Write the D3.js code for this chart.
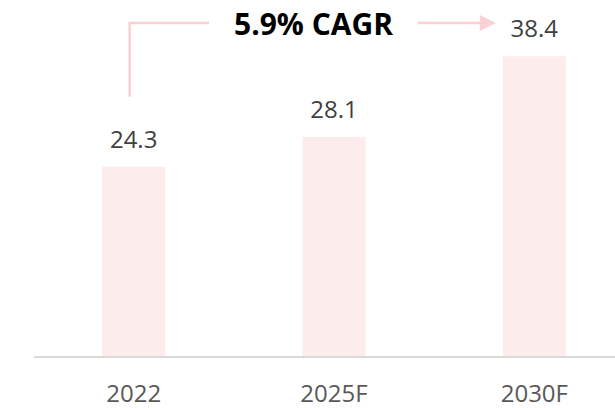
<!DOCTYPE html>
<html>
<head>
<meta charset="utf-8">
<script src="https://cdn.jsdelivr.net/npm/d3@7"></script>
<style>
  body { margin: 0; background: #fff; }
  svg { display: block; font-family: "Open Sans", "Noto Sans", sans-serif; }
</style>
</head>
<body>
<div id="chart"></div>
<script>
// chart data
var years = ["2022", "2025F", "2030F"];
var values = [24.3, 28.1, 38.4];
var cagrLabel = "5.9% CAGR";

var width = 615;
var height = 408;
var baseY = 357;

var svg = d3.select("#chart")
    .append("svg")
    .attr("width", width)
    .attr("height", height);

// x band for the three bars
var x = d3.scaleBand()
    .domain(years)
    .range([34, 634])
    .paddingInner(0.685)
    .paddingOuter(0.34);

// y scale, about 7.83px per unit
var y = d3.scaleLinear()
    .domain([0, 40])
    .range([baseY, baseY - 313.2]);

svg.selectAll("rect.bar")
    .data(values)
    .enter()
    .append("rect")
    .attr("class", "bar")
    .attr("x", function(d, i) { return x(years[i]); })
    .attr("y", function(d) { return y(d); })
    .attr("width", x.bandwidth())
    .attr("height", function(d) { return baseY - y(d); })
    .attr("fill", "#fcecec");

// baseline axis
var xAxis = d3.axisBottom(x).tickSize(0);
var gx = svg.append("g")
    .attr("transform", "translate(0," + baseY + ")")
    .call(xAxis);
gx.select(".domain").remove();
gx.append("line")
    .attr("x1", 34).attr("x2", width)
    .attr("y1", 0).attr("y2", 0)
    .attr("stroke", "#d9d9d9")
    .attr("stroke-width", 2);
gx.selectAll(".tick text")
    .attr("y", 45)
    .attr("dy", 0)
    .attr("font-size", 24)
    .attr("font-family", "Open Sans, Noto Sans, sans-serif")
    .attr("fill", "#595959");

// value labels
svg.selectAll("text.val")
    .data(values)
    .enter()
    .append("text")
    .attr("class", "val")
    .attr("x", function(d, i) { return x(years[i]) + x.bandwidth() / 2; })
    .attr("y", function(d) { return y(d) - 19; })
    .attr("text-anchor", "middle")
    .attr("font-size", 24)
    .attr("fill", "#404040")
    .text(function(d) { return d.toFixed(1); });

// CAGR bracket and arrow
var lineY = 23;
var startX = x(years[0]) + x.bandwidth() / 2 - 4;
var arrowEnd = x(years[2]) - 7;
var pink = "#f9d0d3";

svg.append("path")
    .attr("d", "M" + startX + "," + (y(values[0]) - 70) + " V" + lineY + " H209")
    .attr("fill", "none")
    .attr("stroke", pink)
    .attr("stroke-width", 2.5);

svg.append("line")
    .attr("x1", 418).attr("x2", arrowEnd - 14)
    .attr("y1", lineY).attr("y2", lineY)
    .attr("stroke", pink)
    .attr("stroke-width", 2.5);

svg.append("path")
    .attr("d", "M" + (arrowEnd - 16) + "," + (lineY - 8) + " L" + arrowEnd + "," + lineY + " L" + (arrowEnd - 16) + "," + (lineY + 8) + "Z")
    .attr("fill", pink);

svg.append("text")
    .attr("x", 313.5)
    .attr("y", 35)
    .attr("text-anchor", "middle")
    .attr("font-size", 30)
    .attr("font-weight", "bold")
    .attr("fill", "#000")
    .text(cagrLabel);
</script>
</body>
</html>
